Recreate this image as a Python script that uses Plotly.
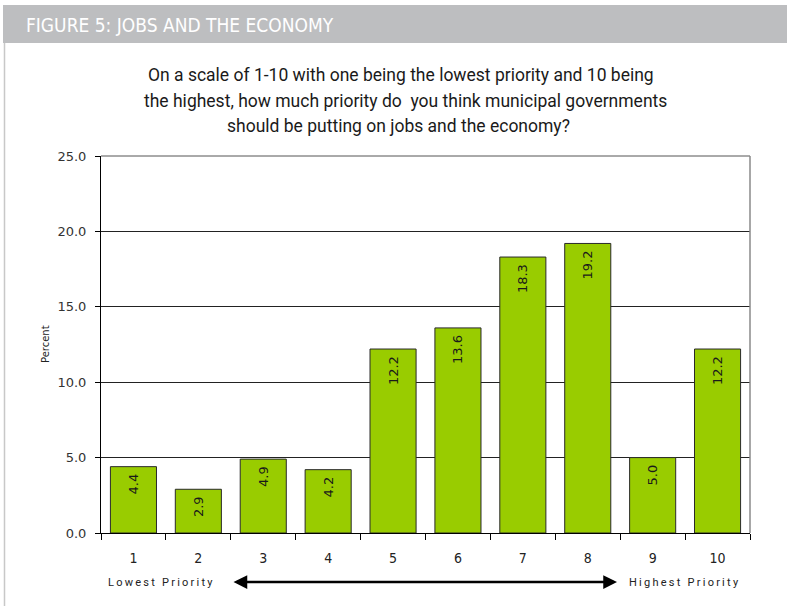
import plotly.graph_objects as go

# Survey responses: priority score (1-10) and share of respondents (%)
scores = list(range(1, 11))
score_labels = [str(s) for s in scores]
percent = [4.4, 2.9, 4.9, 4.2, 12.2, 13.6, 18.3, 19.2, 5.0, 12.2]

y_ticks = [0, 5, 10, 15, 20, 25]
y_tick_text = [f"{v:.1f}" for v in y_ticks]

title_text = "FIGURE 5: JOBS AND THE ECONOMY"
question_lines = [
    "On a scale of 1-10 with one being the lowest priority and 10 being",
    "the highest, how much priority do  you think municipal governments",
    "should be putting on jobs and the economy?",
]
low_label = "Lowest Priority"
high_label = "Highest Priority"
y_title = "Percent"

# Canvas and plot-area geometry (pixels)
W, H = 787, 606
L, R, T, B = 101, 750, 156, 533


def px(x):
    return (x - L) / (R - L)


def py(y):
    return (B - y) / (B - T)


def spaced(s):
    return "\u2009".join(s)


BAR_GREEN = "#99cc00"
TEXT_FONT = "DejaVu Sans, Verdana, sans-serif"
NARROW = "Liberation Sans Narrow, DejaVu Sans Condensed, Arial Narrow, sans-serif"
BODY = "Roboto, Open Sans, sans-serif"

fig = go.Figure()
fig.add_trace(
    go.Bar(
        x=scores,
        y=percent,
        width=0.71,
        marker=dict(color=BAR_GREEN, line=dict(color="#2a2a2a", width=1)),
        text=[f"{v:.1f} " for v in percent],
        textposition="inside",
        insidetextanchor="end",
        textangle=-90,
        textfont=dict(family=TEXT_FONT, size=13, color="#1a1a1a"),
        constraintext="none",
        hoverinfo="x+y",
    )
)

annotations = []
# Figure title on the grey band
annotations.append(
    dict(
        xref="paper", yref="paper", x=px(24), y=py(25),
        xanchor="left", yanchor="middle", showarrow=False,
        text=title_text,
        font=dict(family=NARROW, size=19, color="white"),
    )
)
# Survey question, one line at a time
for line, cx, cy in zip(question_lines, [400.5, 405.5, 398.5], [75, 101, 126]):
    annotations.append(
        dict(
            xref="paper", yref="paper", x=px(cx), y=py(cy),
            xanchor="center", yanchor="middle", showarrow=False,
            text=line,
            font=dict(family=BODY, size=17.5, color="#1a1a1a"),
        )
    )
# Axis title
annotations.append(
    dict(
        xref="paper", yref="paper", x=px(45), y=py(344),
        xanchor="center", yanchor="middle", showarrow=False,
        text=y_title, textangle=-90,
        font=dict(family=TEXT_FONT, size=10, color="#222"),
    )
)
# Scale end labels
annotations.append(
    dict(
        xref="paper", yref="paper", x=px(160), y=py(582),
        xanchor="center", yanchor="middle", showarrow=False,
        text=spaced(low_label),
        font=dict(family=BODY, size=11, color="#222"),
    )
)
annotations.append(
    dict(
        xref="paper", yref="paper", x=px(684), y=py(582),
        xanchor="center", yanchor="middle", showarrow=False,
        text=spaced(high_label),
        font=dict(family=BODY, size=11, color="#222"),
    )
)
# Double-headed arrow between the scale ends
annotations.append(
    dict(
        xref="paper", yref="paper", x=px(617), y=py(582),
        ax=-(617 - 232), ay=0, text="",
        showarrow=True, arrowside="end+start",
        arrowhead=2, startarrowhead=2,
        arrowsize=1.1, startarrowsize=1.1,
        arrowwidth=2.5, arrowcolor="black",
    )
)

shapes = [
    # grey title band
    dict(type="rect", xref="paper", yref="paper",
         x0=px(3), x1=px(787), y0=py(43), y1=py(5),
         fillcolor="#bdbec0", line=dict(width=0), layer="below"),
    # left frame edge of the panel
    dict(type="line", xref="paper", yref="paper",
         x0=px(4.5), x1=px(4.5), y0=py(43), y1=py(606),
         line=dict(color="#c8c8c8", width=1.5)),
    # plot-area top and right border
    dict(type="line", xref="paper", yref="paper",
         x0=0, x1=1, y0=1, y1=1, line=dict(color="#555", width=1)),
    dict(type="line", xref="paper", yref="paper",
         x0=1, x1=1, y0=0, y1=1, line=dict(color="#8a8a8a", width=1.5)),
]

fig.update_layout(
    width=W, height=H,
    margin=dict(l=L, r=W - R, t=T, b=H - B, pad=0),
    paper_bgcolor="white",
    plot_bgcolor="white",
    showlegend=False,
    bargap=0.29,
    annotations=annotations,
    shapes=shapes,
    xaxis=dict(
        range=[0.5, 10.5],
        tickmode="array", tickvals=scores, ticktext=score_labels,
        ticks="", ticklen=0,
        ticklabelstandoff=12,
        tickfont=dict(family=NARROW, size=14, color="#222"),
        showline=True, linecolor="black", linewidth=1,
        showgrid=False, zeroline=False,
        minor=dict(
            tickmode="array",
            tickvals=[s - 0.5 for s in scores] + [10.5],
            ticks="outside", ticklen=6, tickcolor="black", tickwidth=1,
            showgrid=False,
        ),
        fixedrange=True,
    ),
    yaxis=dict(
        range=[0, 25],
        tickmode="array", tickvals=y_ticks, ticktext=y_tick_text,
        ticks="outside", ticklen=5, tickcolor="black", tickwidth=1,
        ticklabelstandoff=6,
        tickfont=dict(family=TEXT_FONT, size=13, color="#333"),
        showline=True, linecolor="black", linewidth=1,
        showgrid=True, gridcolor="#222", gridwidth=1,
        zeroline=False,
        fixedrange=True,
    ),
)

fig.write_html("out.html")
